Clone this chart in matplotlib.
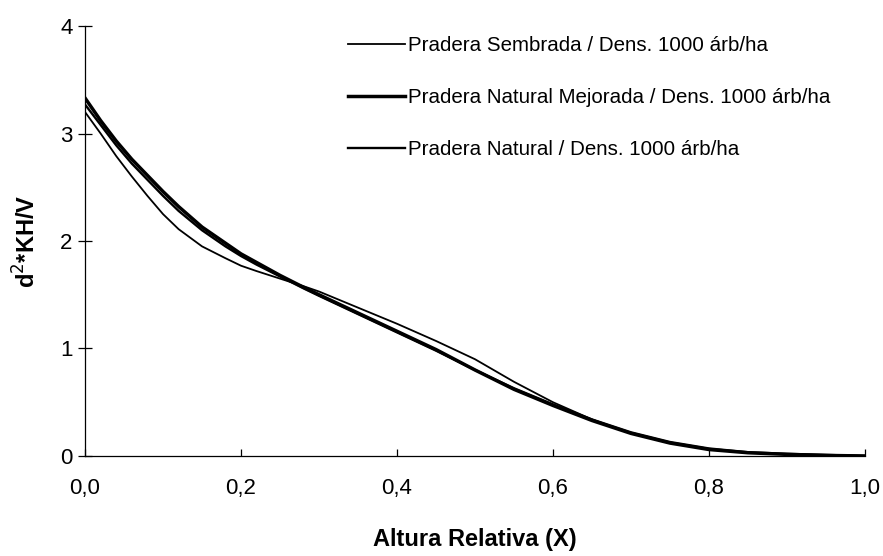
import matplotlib
matplotlib.use("Agg")
import matplotlib.pyplot as plt

# -------------------------------
# DATA
# -------------------------------

x = [0.00, 0.02, 0.04, 0.06, 0.08, 0.10, 0.12, 0.15, 0.18, 0.20, 0.22, 0.25,
     0.28, 0.30, 0.35, 0.40, 0.45, 0.50, 0.55, 0.60, 0.65, 0.70, 0.75, 0.80,
     0.85, 0.90, 0.95, 1.00]

sembrada = [3.20, 3.00, 2.79, 2.60, 2.42, 2.25, 2.11, 1.95, 1.84, 1.77, 1.72, 1.65,
            1.58, 1.53, 1.38, 1.23, 1.07, 0.90, 0.69, 0.50, 0.34, 0.21, 0.12, 0.06,
            0.03, 0.015, 0.005, 0.00]

mejorada = [3.33, 3.12, 2.93, 2.76, 2.61, 2.46, 2.32, 2.13, 1.98, 1.88, 1.80, 1.68,
            1.57, 1.50, 1.33, 1.16, 0.99, 0.80, 0.62, 0.47, 0.33, 0.21, 0.12, 0.06,
            0.03, 0.015, 0.005, 0.00]

natural = [3.27, 3.08, 2.89, 2.72, 2.57, 2.42, 2.28, 2.10, 1.95, 1.86, 1.78, 1.67,
           1.56, 1.49, 1.32, 1.15, 0.98, 0.80, 0.63, 0.48, 0.34, 0.22, 0.13, 0.07,
           0.035, 0.02, 0.01, 0.00]

labels = ["Pradera Sembrada / Dens. 1000 árb/ha",
          "Pradera Natural Mejorada / Dens. 1000 árb/ha",
          "Pradera Natural / Dens. 1000 árb/ha"]

xticks = [0.0, 0.2, 0.4, 0.6, 0.8, 1.0]
xticklabels = ["0,0", "0,2", "0,4", "0,6", "0,8", "1,0"]
yticks = [0, 1, 2, 3, 4]

# -------------------------------
# PLOT
# -------------------------------

plt.rcParams['font.family'] = ['Liberation Sans', 'DejaVu Sans']

fig = plt.figure(figsize=(8.83, 5.56), dpi=100)
ax = fig.add_axes([0.0963, 0.1799, 0.8833, 0.7733])

ax.plot(x, sembrada, color='black', lw=1.3, label=labels[0])
ax.plot(x, mejorada, color='black', lw=2.5, label=labels[1])
ax.plot(x, natural, color='black', lw=1.7, label=labels[2])

ax.set_xlim(0, 1.0)
ax.set_ylim(0, 4)
ax.set_xticks(xticks)
ax.set_xticklabels(xticklabels)
ax.set_yticks(yticks)

for side in ['top', 'right']:
    ax.spines[side].set_visible(False)
for side in ['left', 'bottom']:
    ax.spines[side].set_linewidth(0.9)

ax.tick_params(axis='x', direction='in', length=5, width=0.9, pad=16, labelsize=16)
ax.tick_params(axis='y', direction='inout', length=10, width=0.9, pad=4, labelsize=16)

ax.set_xlabel("Altura Relativa (X)", fontsize=17, fontweight='bold', labelpad=21)
ax.set_ylabel("d$^{2}$*KH/V", fontsize=17, fontweight='bold', labelpad=14)

leg = ax.legend(loc='upper left', bbox_to_anchor=(0.313, 1.02), frameon=False,
                fontsize=14.8, handlelength=2.8, handletextpad=0.15,
                labelspacing=1.6)

fig.savefig("out.png", dpi=100)
